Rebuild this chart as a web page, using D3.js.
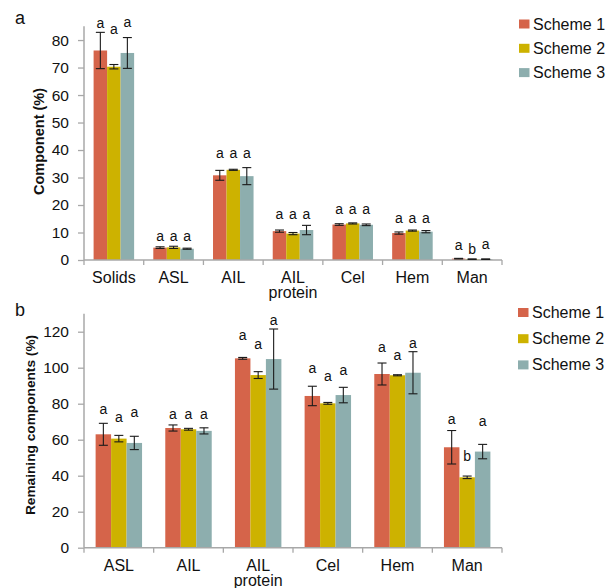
<!DOCTYPE html>
<html>
<head>
<meta charset="utf-8">
<script src="https://cdn.jsdelivr.net/npm/d3@7"></script>
<style>
  body { margin: 0; background: #fff; }
  text { font-family: "Liberation Sans", Arial, sans-serif; fill: #111; }
</style>
</head>
<body>
<svg id="chart" width="608" height="588"></svg>
<script>
// ---- data ----
var schemes = ["Scheme 1", "Scheme 2", "Scheme 3"];
var colors = ["#d5644a", "#cdb200", "#8daeae"];

// panel a : component (%)
var catsA = ["Solids", "ASL", "AIL", "AIL|protein", "Cel", "Hem", "Man"];
var meanA1 = [76.2, 4.5, 30.8, 10.5, 12.9, 9.8, 0.5];
var meanA2 = [70.3, 4.6, 32.8, 9.6, 13.3, 10.7, 0.3];
var meanA3 = [75.3, 4.1, 30.5, 10.9, 12.8, 10.3, 0.3];
var errA1 = [6.6, 0.3, 1.8, 0.4, 0.3, 0.4, 0.1];
var errA2 = [0.8, 0.4, 0.2, 0.4, 0.2, 0.2, 0.1];
var errA3 = [5.6, 0.2, 3.1, 1.7, 0.3, 0.4, 0.1];
var lettersA1 = ["a", "a", "a", "a", "a", "a", "a"];
var lettersA2 = ["a", "a", "a", "a", "a", "a", "b"];
var lettersA3 = ["a", "a", "a", "a", "a", "a", "a"];
// height (in axis units) where each letter sits
var letterAtA1 = [84.5, 6.8, 37.2, 14.8, 16.6, 13.6, 3.5];
var letterAtA2 = [82.3, 6.8, 37.2, 14.8, 16.6, 13.6, 2.2];
var letterAtA3 = [84.8, 6.8, 37.2, 14.8, 16.6, 13.6, 4.1];
var ticksA = [0, 10, 20, 30, 40, 50, 60, 70, 80];

// panel b : remaining components (%)
var catsB = ["ASL", "AIL", "AIL|protein", "Cel", "Hem", "Man"];
var meanB1 = [63.0, 66.5, 105.2, 84.3, 96.5, 55.8];
var meanB2 = [60.6, 65.8, 95.9, 80.2, 95.8, 39.1];
var meanB3 = [58.2, 64.9, 104.8, 84.8, 97.2, 53.4];
var errB1 = [6.1, 1.7, 0.5, 5.4, 6.1, 9.3];
var errB2 = [1.8, 0.5, 1.9, 0.5, 0.3, 0.7];
var errB3 = [3.7, 1.7, 16.7, 4.3, 11.7, 4.0];
var lettersB1 = ["a", "a", "a", "a", "a", "a"];
var lettersB2 = ["a", "a", "a", "a", "a", "b"];
var lettersB3 = ["a", "a", "a", "a", "a", "a"];
var letterAtB1 = [74.1, 71.7, 115.2, 97.2, 108.7, 68.9];
var letterAtB2 = [69.8, 71.7, 110.6, 92.6, 104.4, 47.9];
var letterAtB3 = [72.6, 71.7, 123.5, 96.1, 111.1, 67.4];
var ticksB = [0, 20, 40, 60, 80, 100, 120];

var svg = d3.select("#chart");

function drawPanel(p) {
  var g = svg.append("g");
  var y = d3.scaleLinear().domain([0, p.yMax]).range([p.bottom, p.top]);
  var x0 = d3.scaleBand().domain(p.cats).range([p.left, p.right]);
  var x1 = d3.scaleBand().domain(schemes).range([0, x0.bandwidth()])
    .paddingOuter(p.pad);

  // flatten the series into one row per bar
  var rows = [];
  p.cats.forEach(function(c, i) {
    schemes.forEach(function(s, k) {
      rows.push({ cat: c, s: s, k: k, v: p.means[k][i], e: p.errs[k][i],
                  letter: p.letters[k][i], at: p.letterAt[k][i] });
    });
  });

  g.selectAll(".bar").data(rows).enter().append("rect")
    .attr("x", function(d) { return x0(d.cat) + x1(d.s); })
    .attr("y", function(d) { return y(d.v); })
    .attr("width", x1.bandwidth())
    .attr("height", function(d) { return y(0) - y(d.v); })
    .attr("fill", function(d) { return colors[d.k]; });

  // axes
  var axisCol = "#a8a8a8";
  var ya = g.append("g").attr("transform", "translate(" + p.left + ",0)")
    .call(d3.axisLeft(y).tickValues(p.ticks).tickSize(6).tickPadding(9));
  ya.select(".domain").remove();
  ya.selectAll("line").attr("stroke", axisCol).attr("stroke-width", 1.3);
  ya.selectAll("text").attr("font-size", "15.5px").attr("fill", "#111")
    .style("font-family", "Liberation Sans, Arial, sans-serif");
  g.append("line").attr("x1", p.left).attr("x2", p.left)
    .attr("y1", y(0)).attr("y2", p.top)
    .attr("stroke", axisCol).attr("stroke-width", 1.5);
  g.append("line").attr("x1", p.left).attr("x2", p.right)
    .attr("y1", y(0)).attr("y2", y(0))
    .attr("stroke", axisCol).attr("stroke-width", 1.5);
  var bounds = p.cats.map(function(c) { return x0(c); }).concat([p.right]);
  g.selectAll(".xt").data(bounds).enter().append("line")
    .attr("x1", function(d) { return d; }).attr("x2", function(d) { return d; })
    .attr("y1", y(0)).attr("y2", y(0) + 5)
    .attr("stroke", axisCol).attr("stroke-width", 1.3);

  // category labels, two lines where needed
  var lab = g.selectAll(".cl").data(p.cats).enter().append("text")
    .attr("text-anchor", "middle").attr("font-size", "16px")
    .attr("x", function(d) { return x0(d) + x0.bandwidth() / 2; })
    .attr("y", y(0) + 23);
  lab.each(function(d) {
    var parts = d.split("|");
    var t = d3.select(this);
    parts.forEach(function(s, j) {
      t.append("tspan").attr("x", t.attr("x")).attr("dy", j ? 15 : 0).text(s);
    });
  });

  // error bars
  var cap = 4.5;
  var eb = g.selectAll(".eb").data(rows).enter().append("g")
    .attr("stroke", "#1a1a1a").attr("stroke-width", 1.1);
  eb.each(function(d) {
    var cx = x0(d.cat) + x1(d.s) + x1.bandwidth() / 2;
    var e = d3.select(this);
    e.append("line").attr("x1", cx).attr("x2", cx)
      .attr("y1", y(d.v + d.e)).attr("y2", y(d.v - d.e));
    e.append("line").attr("x1", cx - cap).attr("x2", cx + cap)
      .attr("y1", y(d.v + d.e)).attr("y2", y(d.v + d.e));
    e.append("line").attr("x1", cx - cap).attr("x2", cx + cap)
      .attr("y1", y(d.v - d.e)).attr("y2", y(d.v - d.e));
  });

  // significance letters
  g.selectAll(".lt").data(rows).enter().append("text")
    .attr("text-anchor", "middle").attr("font-size", "14px")
    .attr("x", function(d) { return x0(d.cat) + x1(d.s) + x1.bandwidth() / 2; })
    .attr("y", function(d) { return y(d.at); })
    .text(function(d) { return d.letter; });

  // y title
  g.append("text")
    .attr("transform", "translate(" + p.titleX + "," + p.titleY + ") rotate(-90)")
    .attr("text-anchor", "middle").attr("font-size", p.titleSize)
    .attr("font-weight", "bold").text(p.title);

  // panel letter
  g.append("text").attr("x", 15).attr("y", p.tagY)
    .attr("font-size", "18px").text(p.tag);

  // legend
  var leg = g.selectAll(".lg").data(schemes).enter().append("g")
    .attr("transform", function(d, i) {
      return "translate(" + p.legX + "," + (p.legY + i * p.legStep) + ")";
    });
  leg.append("rect").attr("x", 0).attr("y", -4.5).attr("width", 10.5)
    .attr("height", 9).attr("fill", function(d, i) { return colors[i]; });
  leg.append("text").attr("x", 14).attr("y", 5.5).attr("font-size", "16px")
    .text(function(d) { return d; });
}

drawPanel({
  cats: catsA, means: [meanA1, meanA2, meanA3], errs: [errA1, errA2, errA3],
  letters: [lettersA1, lettersA2, lettersA3],
  letterAt: [letterAtA1, letterAtA2, letterAtA3],
  ticks: ticksA, yMax: 85, top: 26.3, bottom: 260, left: 84, right: 502,
  pad: 0.71, title: "Component (%)", titleX: 44, titleY: 141.5, titleSize: "14.5px",
  tag: "a", tagY: 24, legX: 519, legY: 24, legStep: 24.3
});

drawPanel({
  cats: catsB, means: [meanB1, meanB2, meanB3], errs: [errB1, errB2, errB3],
  letters: [lettersB1, lettersB2, lettersB3],
  letterAt: [letterAtB1, letterAtB2, letterAtB3],
  ticks: ticksB, yMax: 130, top: 313.7, bottom: 547.7, left: 84, right: 502,
  pad: 0.75, title: "Remaining components (%)", titleX: 34.5, titleY: 425, titleSize: "13.7px",
  tag: "b", tagY: 316, legX: 518, legY: 312.5, legStep: 26.2
});
</script>
</body>
</html>
